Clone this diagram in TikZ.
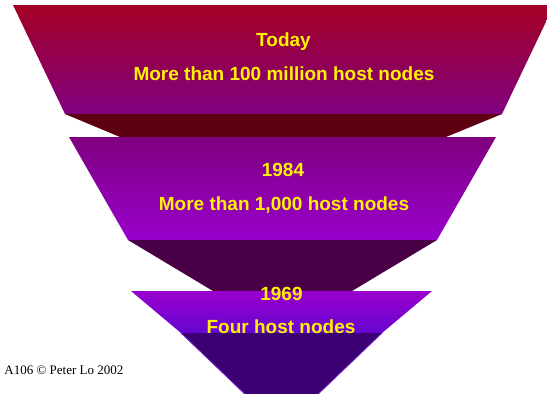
\documentclass[tikz,border=0pt]{standalone}
\usepackage{fontspec}
\setmainfont{Liberation Serif}
\setsansfont{Liberation Sans}
\newlength{\du}
\setlength{\du}{1pt}
\definecolor{layeratop}{rgb}{0.640000, 0.000000, 0.140000}
\definecolor{layerabot}{rgb}{0.500000, 0.000000, 0.500000}
\definecolor{bandacolor}{rgb}{0.370000, 0.000000, 0.070000}
\definecolor{layerbbot}{rgb}{0.600000, 0.000000, 0.800000}
\definecolor{bandbcolor}{rgb}{0.290000, 0.000000, 0.280000}
\definecolor{layercbot}{rgb}{0.400000, 0.020000, 0.820000}
\definecolor{conecolor}{rgb}{0.240000, 0.000000, 0.450000}
\definecolor{coneedge}{rgb}{0.470000, 0.150000, 0.820000}
\tikzset{
  hosttext/.style={text=yellow, anchor=base, inner sep=0pt,
    font=\sffamily\bfseries\fontsize{19}{21}\selectfont},
  notetext/.style={text=black, anchor=base west, inner sep=0pt,
    font=\rmfamily\fontsize{13}{14}\selectfont},
}

\begin{document}
\begin{tikzpicture}
\pgftransformxscale{1.000000}
\pgftransformyscale{-1.000000}
\useasboundingbox (0.000000\du,0.000000\du) rectangle (547.000000\du,394.000000\du);
\clip (0.000000\du,0.000000\du) rectangle (547.000000\du,394.000000\du);
\pgfsetlinewidth{0.000000\du}
\pgfsetdash{}{0pt}
% top face, today
{
\shade[top color=layeratop, bottom color=layerabot] (13.000000\du,5.000000\du)--(554.000000\du,5.000000\du)--(502.000000\du,114.000000\du)--(65.000000\du,114.000000\du)--cycle;
}
% side under the top face
{
\fill[bandacolor] (65.000000\du,114.000000\du)--(502.000000\du,114.000000\du)--(446.000000\du,137.000000\du)--(120.000000\du,137.000000\du)--cycle;
}
% middle face, 1984
{
\shade[top color=layerabot, bottom color=layerbbot] (69.000000\du,137.000000\du)--(496.000000\du,137.000000\du)--(437.000000\du,240.000000\du)--(128.000000\du,240.000000\du)--cycle;
}
% side under the middle face
{
\fill[bandbcolor] (128.000000\du,240.000000\du)--(437.000000\du,240.000000\du)--(352.000000\du,291.000000\du)--(213.000000\du,291.000000\du)--cycle;
}
% bottom face, 1969
{
\shade[top color=layerbbot, bottom color=layercbot] (131.000000\du,291.000000\du)--(432.000000\du,291.000000\du)--(382.000000\du,333.000000\du)--(181.000000\du,333.000000\du)--cycle;
}
% was here!!!
{
\fill[conecolor] (181.000000\du,333.000000\du)--(382.000000\du,333.000000\du)--(312.000000\du,400.000000\du)--(251.000000\du,400.000000\du)--cycle;
\pgfsetlinewidth{0.800000\du}
\draw[coneedge] (181.000000\du,333.000000\du)--(251.000000\du,400.000000\du);
\draw[coneedge] (382.000000\du,333.000000\du)--(312.000000\du,400.000000\du);
}
% setfont left to latex
\node[hosttext] (today) at (283.500000\du,46.000000\du){Today};
\node[hosttext] (todaynodes) at (284.000000\du,80.000000\du){More than 100 million host nodes};
\node[hosttext] (year84) at (283.000000\du,176.000000\du){1984};
\node[hosttext] (nodes84) at (284.000000\du,210.000000\du){More than 1,000 host nodes};
\node[hosttext] (year69) at (281.500000\du,300.000000\du){1969};
\node[hosttext] (nodes69) at (281.000000\du,333.000000\du){Four host nodes};
% setfont left to latex
\node[notetext] (credit) at (4.000000\du,374.000000\du){A106 © Peter Lo 2002};
\end{tikzpicture}
\end{document}
